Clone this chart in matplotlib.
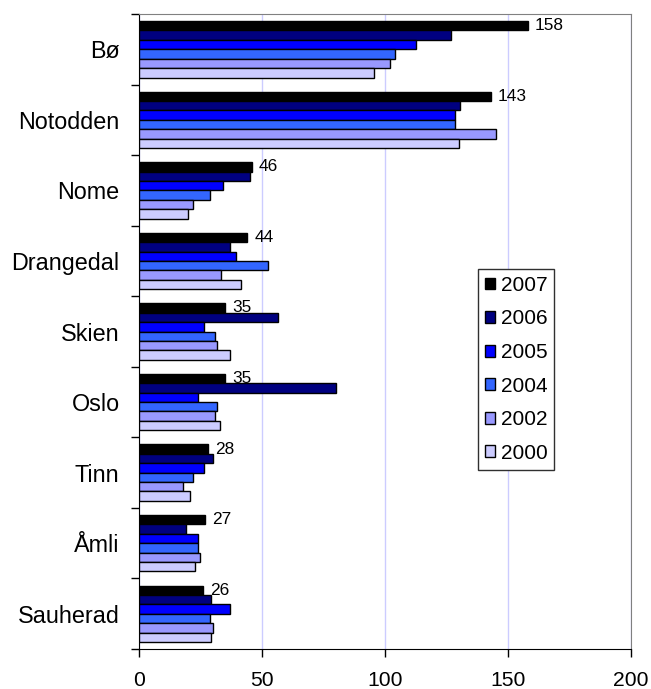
import numpy as np
import matplotlib
matplotlib.use("Agg")
import matplotlib.pyplot as plt

# ──────────────────────────────────────────────
# Data
# ──────────────────────────────────────────────
categories = ["Bø", "Notodden", "Nome", "Drangedal", "Skien",
              "Oslo", "Tinn", "Åmli", "Sauherad"]
years = ["2007", "2006", "2005", "2004", "2002", "2000"]

v2007 = [158, 143, 46, 44, 35, 35, 28, 27, 26]
v2006 = [127, 130.5, 45, 37, 56.5, 80, 30, 19, 29.3]
v2005 = [112.5, 128.5, 34, 39.5, 26.5, 24, 26.5, 24, 37]
v2004 = [104, 128.5, 29, 52.5, 31, 31.8, 22, 24, 29]
v2002 = [102, 145, 22, 33.5, 31.8, 31, 18, 24.6, 30]
v2000 = [95.5, 130, 20, 41.5, 37, 33, 20.8, 22.8, 29.2]
series = [v2007, v2006, v2005, v2004, v2002, v2000]

colors = ["#000000", "#000080", "#0000ff", "#3366ff", "#9999ff", "#ccccff"]

plt.rcParams["font.family"] = ["Liberation Sans", "DejaVu Sans"]

fig = plt.figure(figsize=(6.51, 6.89), dpi=100)
ax = fig.add_axes([139 / 651, 1 - 649 / 689, 492 / 651, 635 / 689])

y = np.arange(len(categories))
h = 0.8 / len(series)
for j, (vals, yr, col) in enumerate(zip(series, years, colors)):
    ax.barh(y + (j - 2.5) * h, vals, height=h, color=col,
            edgecolor="black", linewidth=1, label=yr, zorder=3)

# etiquetas de valor solo para 2007
for yi, v in zip(y, v2007):
    ax.text(v + 2.8, yi - 2.5 * h, f"{v:g}", va="center", ha="left",
            fontsize=12.4, zorder=4)

ax.set_xlim(0, 200)
ax.set_ylim(len(categories) - 0.5, -0.5)
ax.set_xticks([0, 50, 100, 150, 200])
ax.xaxis.grid(True, color="#ccccff", linewidth=1, zorder=0)
ax.tick_params(axis="x", labelsize=15.2, length=6, width=1, pad=10,
               direction="out")

ax.set_yticks(y)
ax.set_yticklabels(categories)
ax.tick_params(axis="y", which="major", length=0, labelsize=16.8, pad=14)
ax.set_yticks(np.arange(-0.5, len(categories), 1), minor=True)
ax.tick_params(axis="y", which="minor", length=6, width=1, direction="out")

for s in ["top", "right"]:
    ax.spines[s].set_color("#808080")
for s in ["left", "bottom"]:
    ax.spines[s].set_color("black")

leg = ax.legend(loc="upper left", bbox_to_anchor=(478 / 651, 1 - 269 / 689),
                bbox_transform=fig.transFigure, borderaxespad=0,
                fontsize=15, frameon=True, fancybox=False, shadow=False,
                handlelength=0.5, handleheight=0.5, handletextpad=0.25,
                labelspacing=0.7, borderpad=0.33)
leg.get_frame().set_edgecolor("#303030")
leg.get_frame().set_linewidth(1)
leg.get_frame().set_alpha(1)

fig.savefig("out.png", dpi=100)
